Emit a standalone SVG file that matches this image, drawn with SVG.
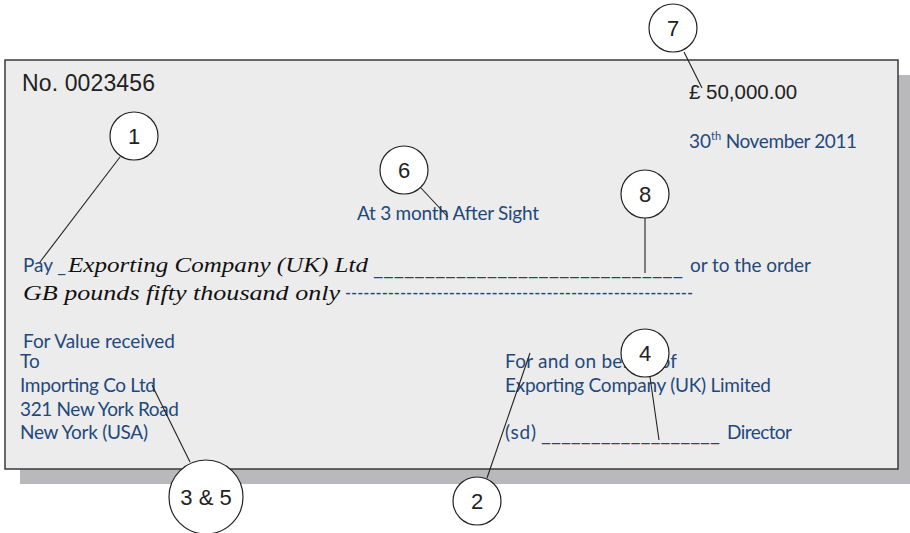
<svg xmlns="http://www.w3.org/2000/svg" width="910" height="533" viewBox="0 0 910 533">
  <style>
    .blue { font-family: Lato, "Open Sans", sans-serif; font-size: 19px; fill: #1f497d; }
    .arial { font-family: "Liberation Sans", Arial, sans-serif; fill: #222; }
    .hand { font-family: "Liberation Serif", serif; font-style: italic; font-size: 22px; fill: #111; }
    .callout circle { fill: #fff; stroke: #222; stroke-width: 1.2; }
    .callout text { font-family: "Liberation Sans", Arial, sans-serif; font-size: 22px; fill: #222; text-anchor: middle; }
    .conn line { stroke: #222; stroke-width: 1.1; }
  </style>

  <!-- bill of exchange sheet with drop shadow -->
  <g id="sheet">
    <rect x="20" y="75" width="900" height="409" fill="#b9b9bc"/>
    <rect x="5" y="60" width="893" height="409" fill="#ececec" stroke="#3a3a3a" stroke-width="1.5"/>
  </g>

  <!-- printed and written content -->
  <g id="content">
    <text class="arial" x="22" y="91" font-size="23" textLength="133">No. 0023456</text>
    <text class="arial" x="689" y="99" font-size="20.5">£<tspan x="706">50,000.00</tspan></text>
    <text class="blue" x="689" y="148">30<tspan font-size="11" dy="-8">th</tspan><tspan dy="8" textLength="136"> November 2011</tspan></text>
    <text class="blue" x="357" y="220" textLength="182">At 3 month After Sight</text>

    <text class="blue" x="23" y="272" textLength="43">Pay _</text>
    <text class="hand" x="68" y="272" textLength="300" lengthAdjust="spacingAndGlyphs">Exporting Company (UK) Ltd</text>
    <text class="blue" x="373" y="275" textLength="310" lengthAdjust="spacingAndGlyphs">______________________________</text>
    <text class="blue" x="690" y="272" textLength="121">or to the order</text>

    <text class="hand" x="23" y="300" textLength="317" lengthAdjust="spacingAndGlyphs">GB pounds fifty thousand only</text>
    <text class="blue" x="345" y="299" font-size="20" textLength="348" lengthAdjust="spacingAndGlyphs">---------------------------------------------------------</text>

    <text class="blue" x="23" y="348" textLength="152">For Value received</text>
    <text class="blue" x="20" y="368">To</text>
    <text class="blue" x="20" y="392" textLength="136">Importing Co Ltd</text>
    <text class="blue" x="20" y="416" textLength="159">321 New York Road</text>
    <text class="blue" x="20" y="439" textLength="128">New York (USA)</text>

    <text class="blue" x="505" y="368" textLength="172">For and on behalf of</text>
    <text class="blue" x="505" y="392" textLength="266">Exporting Company (UK) Limited</text>
    <text class="blue" x="505" y="439" textLength="31">(sd)</text>
    <text class="blue" x="541" y="441" textLength="179" lengthAdjust="spacingAndGlyphs">__________________</text>
    <text class="blue" x="727" y="439" textLength="65">Director</text>
  </g>

  <!-- leader lines from callouts -->
  <g id="connectors" class="conn">
    <line x1="120" y1="157" x2="40" y2="262"/>
    <line x1="421" y1="188" x2="448" y2="217"/>
    <line x1="684" y1="52" x2="702" y2="88"/>
    <line x1="645" y1="218" x2="645" y2="273"/>
    <line x1="650" y1="377" x2="659" y2="440"/>
    <line x1="487" y1="478" x2="530" y2="353"/>
    <line x1="190" y1="462" x2="152" y2="385"/>
  </g>

  <!-- numbered callouts -->
  <g id="callout-1" class="callout"><circle cx="134" cy="136" r="24"/><text x="134" y="144">1</text></g>
  <g id="callout-2" class="callout"><circle cx="477" cy="501" r="24"/><text x="477" y="509">2</text></g>
  <g id="callout-3-5" class="callout"><circle cx="206" cy="497" r="37"/><text x="206" y="505">3 &amp; 5</text></g>
  <g id="callout-4" class="callout"><circle cx="645" cy="353" r="24"/><text x="645" y="361">4</text></g>
  <g id="callout-6" class="callout"><circle cx="404" cy="170" r="24"/><text x="404" y="178">6</text></g>
  <g id="callout-7" class="callout"><circle cx="673" cy="28" r="24"/><text x="673" y="36">7</text></g>
  <g id="callout-8" class="callout"><circle cx="645" cy="194" r="24"/><text x="645" y="202">8</text></g>
</svg>
